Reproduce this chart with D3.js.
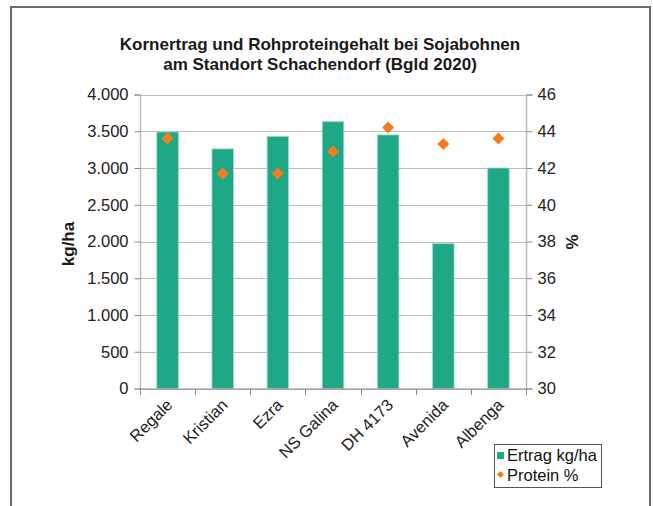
<!DOCTYPE html>
<html><head><meta charset="utf-8">
<script src="https://cdn.jsdelivr.net/npm/d3@7"></script>
<style>body{margin:0;background:#fff}svg{display:block;font-family:"Liberation Sans",Arial,sans-serif}</style>
</head><body>
<script>
const categories = ["Regale","Kristian","Ezra","NS Galina","DH 4173","Avenida","Albenga"];
const ertrag = [3490, 3260, 3430, 3630, 3450, 1970, 3000];
const protein = [43.6, 41.7, 41.7, 42.9, 44.2, 43.3, 43.6];
const leftTicks = [0,500,1000,1500,2000,2500,3000,3500,4000];
const rightTicks = [30,32,34,36,38,40,42,44,46];
const titleLines = ["Kornertrag und Rohproteingehalt bei Sojabohnen","am Standort Schachendorf (Bgld 2020)"];

const W=653,H=506;
const svg=d3.select("body").append("svg").attr("width",W).attr("height",H);
const m={left:140,right:526,top:94.5,bottom:388.5};
const loc=d3.formatLocale({decimal:",",thousands:".",grouping:[3],currency:["","€"]});
const fmt=loc.format(",d");
const FS=16.5;

// outer frame
svg.append("path").attr("d",`M11,${H+2}V7H650V${H+2}`).attr("fill","none").attr("stroke","#6b6b6b").attr("stroke-width",2);

const x=d3.scaleBand().domain(categories).range([m.left,m.right]).paddingInner(0.61).paddingOuter(0.305);
const xb=d3.scaleBand().domain(categories).range([m.left,m.right]);
const y=d3.scaleLinear().domain([0,4000]).range([m.bottom,m.top]);
const y2=d3.scaleLinear().domain([30,46]).range([m.bottom,m.top]);

// gridlines
svg.append("g").selectAll("line").data(leftTicks).join("line")
  .attr("x1",m.left).attr("x2",m.right).attr("y1",d=>Math.round(y(d))+0.5).attr("y2",d=>Math.round(y(d))+0.5)
  .attr("stroke","#bdbdbd").attr("stroke-width",1);

// bars
svg.append("g").selectAll("rect").data(ertrag).join("rect")
  .attr("x",(d,i)=>x(categories[i])).attr("width",x.bandwidth())
  .attr("y",d=>y(d)).attr("height",d=>y(0)-y(d))
  .attr("fill","#1fa886").attr("stroke","#9fd9c8").attr("stroke-width",0.8);

// axes
const ax=svg.append("g").attr("transform",`translate(${m.left+0.5},0)`)
  .call(d3.axisLeft(y).tickValues(leftTicks).tickFormat(fmt).tickSize(6).tickPadding(6));
const ax2=svg.append("g").attr("transform",`translate(${m.right+0.5},0)`)
  .call(d3.axisRight(y2).tickValues(rightTicks).tickSize(6).tickPadding(5));
const axb=svg.append("g").attr("transform",`translate(0,${m.bottom+0.5})`)
  .call(d3.axisBottom(xb).tickValues([]).tickSize(0));
[ax,ax2].forEach(a=>{
  a.select(".domain").attr("stroke","#bdbdbd").attr("stroke-width",1.5);
  a.selectAll(".tick line").attr("stroke","#8a8a8a");
  a.selectAll("text").attr("font-size",FS).attr("fill","#222").attr("font-family","Liberation Sans, Arial, sans-serif");
});
ax.select(".domain").attr("d",`M-6,${m.top+0.5}H0V${m.bottom+0.5}H-6`);
ax2.select(".domain").attr("d",`M6,${m.top+0.5}H0V${m.bottom+0.5}H6`);
axb.select(".domain").attr("stroke","#8a8a8a").attr("d",`M${m.left},0H${m.right}`);
// category boundary ticks
const bounds=categories.map(c=>xb(c)).concat([m.right]);
axb.selectAll(".bt").data(bounds).join("line").attr("class","bt")
  .attr("x1",d=>Math.round(d)+0.5).attr("x2",d=>Math.round(d)+0.5).attr("y1",0).attr("y2",6).attr("stroke","#8a8a8a");
axb.selectAll(".cl").data(categories).join("text").attr("class","cl")
  .attr("transform",d=>`translate(${xb(d)+xb.bandwidth()/2+6},${17}) rotate(-45)`)
  .attr("text-anchor","end").attr("font-size",FS).attr("fill","#222").text(d=>d);

// diamonds
const r=6;
svg.append("g").selectAll("path").data(protein).join("path")
  .attr("d",(d,i)=>{const cx=xb(categories[i])+xb.bandwidth()/2, cy=y2(d);
     return `M${cx},${cy-r}L${cx+r},${cy}L${cx},${cy+r}L${cx-r},${cy}Z`;})
  .attr("fill","#f47d20");

// title
svg.append("g").selectAll("text").data(titleLines).join("text")
  .attr("x",320).attr("y",(d,i)=>50+i*20).attr("text-anchor","middle")
  .attr("font-size",17).attr("font-weight","bold").attr("fill","#1a1a1a").text(d=>d);

// axis titles
svg.append("text").attr("transform",`translate(74,244) rotate(-90)`).attr("text-anchor","middle")
  .attr("font-size",17).attr("font-weight","bold").attr("fill","#1a1a1a").text("kg/ha");
svg.append("text").attr("transform",`translate(578,242) rotate(-90)`).attr("text-anchor","middle")
  .attr("font-size",17).attr("font-weight","bold").attr("fill","#1a1a1a").text("%");

// legend
const lg=svg.append("g");
lg.append("rect").attr("x",494.5).attr("y",444.5).attr("width",107).attr("height",43).attr("fill","#fff").attr("stroke","#555");
lg.append("rect").attr("x",497).attr("y",452).attr("width",7).attr("height",7).attr("fill","#1fa886");
lg.append("path").attr("d","M500.5,471L504,474.5L500.5,478L497,474.5Z").attr("fill","#f47d20");
lg.append("text").attr("x",507).attr("y",461).attr("font-size",FS).attr("fill","#111").text("Ertrag kg/ha");
lg.append("text").attr("x",507).attr("y",481).attr("font-size",FS).attr("fill","#111").text("Protein %");
</script>
</body></html>
